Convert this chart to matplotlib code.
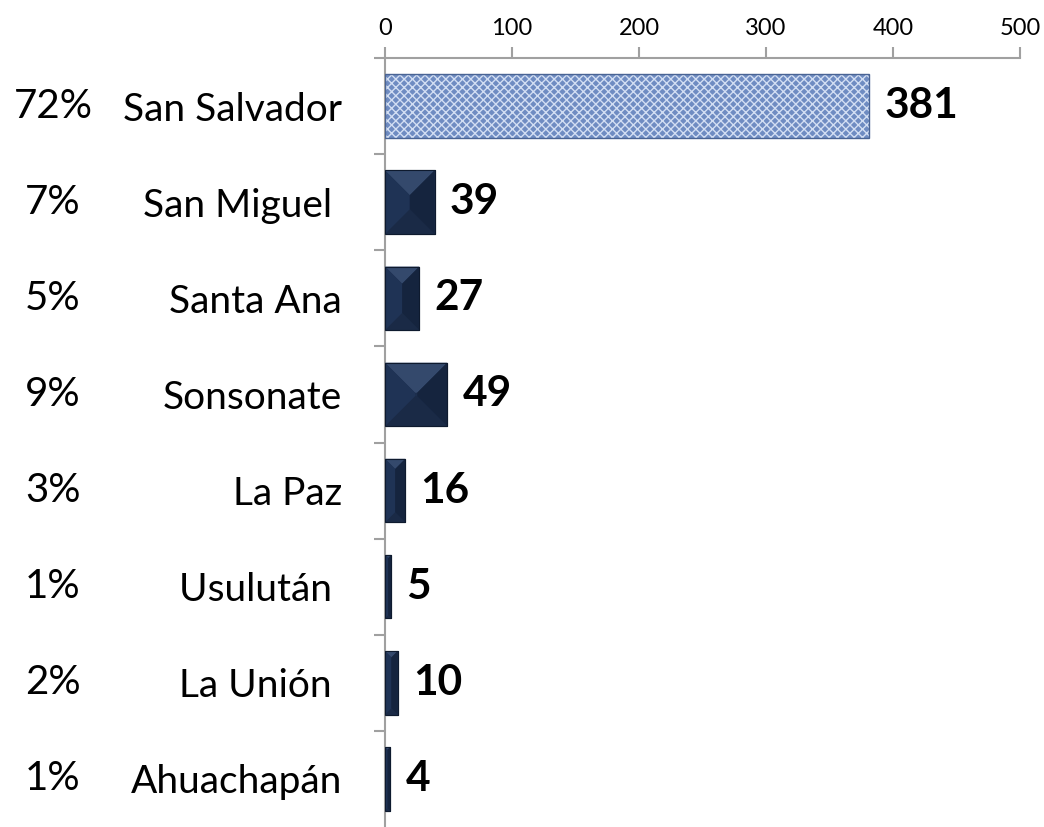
import matplotlib.pyplot as plt
from matplotlib.patches import Polygon, Rectangle
from matplotlib.transforms import blended_transform_factory

plt.rcParams['font.family'] = ['Lato', 'DejaVu Sans']

# data
departamentos = ['San Salvador', 'San Miguel ', 'Santa Ana', 'Sonsonate',
                 'La Paz', 'Usulután ', 'La Unión ', 'Ahuachapán']
porcentajes = ['72%', '7%', '5%', '9%', '3%', '1%', '2%', '1%']
cantidades = [381, 39, 27, 49, 16, 5, 10, 4]

fig = plt.figure(figsize=(10.44, 8.27), dpi=100)
ax = fig.add_axes([385 / 1044, 0.0, 635 / 1044, 1 - 58 / 827])

pos = list(range(len(departamentos)))
bar_h = 0.66
bars = ax.barh(pos, cantidades, height=bar_h, color='#1c2e4d',
               edgecolor='#0e1a2e', linewidth=0.8, zorder=2)

ax.set_xlim(0, 500)
ax.set_ylim(len(departamentos) - 0.5, -0.5)
fig.canvas.draw()

# pixel -> data scale
px_x = 500 / ax.bbox.width
px_y = len(departamentos) / ax.bbox.height

for i, (b, v) in enumerate(zip(bars, cantidades)):
    x0, x1 = 0, v
    y0, y1 = i - bar_h / 2, i + bar_h / 2   # y0 is visually the top
    if i == 0:
        # textured light blue bar
        b.set_facecolor('#6f8cc2')
        b.set_hatch('xxxx')
        b.set_edgecolor('#d2def3')
        b.set_linewidth(0)
        ax.add_patch(Rectangle((x0, y0), v, bar_h, fill=False,
                               edgecolor='#4a6494', linewidth=1.0, zorder=3))
        continue
    wpx = v / px_x
    hpx = bar_h / px_y
    bev = min(wpx / 2, hpx / 2, 30)
    bx = bev * px_x
    by = bev * px_y
    top = [(x0, y0), (x1, y0), (x1 - bx, y0 + by), (x0 + bx, y0 + by)]
    bot = [(x0, y1), (x1, y1), (x1 - bx, y1 - by), (x0 + bx, y1 - by)]
    left = [(x0, y0), (x0 + bx, y0 + by), (x0 + bx, y1 - by), (x0, y1)]
    right = [(x1, y0), (x1 - bx, y0 + by), (x1 - bx, y1 - by), (x1, y1)]
    for pts, col in [(top, '#34496c'), (bot, '#1a2a46'),
                     (left, '#1f3355'), (right, '#15243e')]:
        ax.add_patch(Polygon(pts, closed=True, facecolor=col,
                             edgecolor='none', zorder=3))
    ax.add_patch(Rectangle((x0, y0), v, bar_h, fill=False,
                           edgecolor='#0e1a2e', linewidth=0.8, zorder=4))

# value labels
for i, v in enumerate(cantidades):
    ax.text(v + 12, i, str(v), va='center', ha='left', fontsize=30.5,
            fontweight='bold', color='black', zorder=5)

# category labels
ax.set_yticks(pos)
ax.set_yticklabels(departamentos, fontsize=28)
ax.tick_params(axis='y', length=0, pad=31)
ax.set_yticks([p + 0.5 for p in pos[:-1]] + [-0.5], minor=True)
ax.tick_params(axis='y', which='minor', length=8, color='#a0a0a0', width=1.5)

# percentage labels
trans = blended_transform_factory(fig.transFigure, ax.transData)
for i, p in enumerate(porcentajes):
    ax.text(53 / 1044, i, p, transform=trans, ha='center', va='center',
            fontsize=29)

ax.xaxis.tick_top()
ax.set_xticks(range(0, 501, 100))
ax.tick_params(axis='x', length=8, color='#a0a0a0', width=1.5,
               labelsize=17, pad=6)

for s in ['right', 'bottom']:
    ax.spines[s].set_visible(False)
for s in ['top', 'left']:
    ax.spines[s].set_color('#a0a0a0')
    ax.spines[s].set_linewidth(1.5)

fig.savefig('out.png', dpi=100)
